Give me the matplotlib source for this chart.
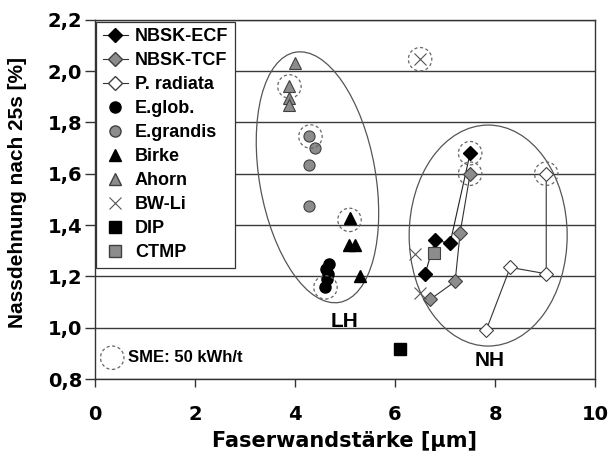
import numpy as np
import matplotlib
matplotlib.use("Agg")
import matplotlib.pyplot as plt
from matplotlib.patches import Ellipse, Circle
from matplotlib.transforms import ScaledTranslation
from matplotlib.lines import Line2D
from matplotlib.ticker import FuncFormatter

plt.rcParams['font.family'] = ['Liberation Sans', 'DejaVu Sans']
plt.rcParams['font.weight'] = 'bold'

# Nadelholz-Serien (verbunden)
ecf_x = [6.60, 6.80, 7.10, 7.50]
ecf_y = [1.21, 1.34, 1.33, 1.68]
tcf_x = [6.70, 7.20, 7.30, 7.50]
tcf_y = [1.11, 1.18, 1.37, 1.60]
rad_x = [7.82, 8.30, 9.02, 9.02]
rad_y = [0.99, 1.235, 1.21, 1.60]

# Laubholz und sonstige
eglob_x = [4.69, 4.62, 4.66, 4.64, 4.60]
eglob_y = [1.25, 1.23, 1.21, 1.19, 1.16]
egrand_x = [4.28, 4.40, 4.28, 4.28]
egrand_y = [1.745, 1.70, 1.634, 1.475]
birke_x = [5.09, 5.07, 5.20, 5.30]
birke_y = [1.426, 1.322, 1.322, 1.20]
ahorn_x = [4.01, 3.89, 3.89, 3.89]
ahorn_y = [2.03, 1.94, 1.894, 1.868]
bwli_x = [6.50, 6.40, 6.50]
bwli_y = [2.046, 1.287, 1.136]
dip_x = [6.10]
dip_y = [0.915]
ctmp_x = [6.78]
ctmp_y = [1.292]

# Punkte mit SME 50 kWh/t
sme_x = [7.50, 7.50, 9.02, 6.50, 3.89, 4.31, 5.09, 4.61]
sme_y = [1.68, 1.60, 1.60, 2.046, 1.94, 1.745, 1.42, 1.157]

GRAY = '#8c8c8c'
EDGE = '#404040'
WIDE = ['DejaVu Sans']

fig = plt.figure(figsize=(6.09, 4.63), dpi=100)
ax = fig.add_axes([0.1555, 0.1814, 0.822, 0.776])

ax.set_xlim(0, 10)
ax.set_ylim(0.8, 2.2)
ax.set_xticks(np.arange(0, 11, 2))
ax.set_yticks(np.arange(0.8, 2.21, 0.2))
ax.yaxis.set_major_formatter(FuncFormatter(lambda v, p: f"{v:.1f}".replace('.', ',')))
ax.grid(axis='y', color='#3a3a3a', linewidth=1.0)
ax.set_axisbelow(True)
ax.tick_params(direction='out', width=1, color='#333333')
ax.tick_params(axis='x', length=6, pad=13)
ax.tick_params(axis='y', length=7, pad=2)
for lbl in ax.get_xticklabels() + ax.get_yticklabels():
    lbl.set_family(WIDE)
    lbl.set_fontsize(14)
    lbl.set_fontweight('bold')
for s in ax.spines.values():
    s.set_color('#333333')
    s.set_linewidth(1.0)

ax.plot(ecf_x, ecf_y, color='#222222', lw=0.8, marker='D', ms=7, mfc='black', mec='black', zorder=4)
ax.plot(tcf_x, tcf_y, color='#333333', lw=0.8, marker='D', ms=7, mfc=GRAY, mec=EDGE, mew=0.8, zorder=4)
ax.plot(rad_x, rad_y, color='#333333', lw=0.8, marker='D', ms=7, mfc='white', mec=EDGE, mew=0.8, zorder=4)
ax.plot(eglob_x, eglob_y, ls='none', marker='o', ms=8, mfc='black', mec='black', zorder=4)
ax.plot(egrand_x, egrand_y, ls='none', marker='o', ms=8, mfc=GRAY, mec=EDGE, mew=0.8, zorder=4)
ax.plot(birke_x, birke_y, ls='none', marker='^', ms=9, mfc='black', mec='black', zorder=4)
ax.plot(ahorn_x, ahorn_y, ls='none', marker='^', ms=9, mfc=GRAY, mec=EDGE, mew=0.8, zorder=4)
ax.plot(bwli_x, bwli_y, ls='none', marker='x', ms=9, mec='#555555', mew=0.8, zorder=4)
ax.plot(dip_x, dip_y, ls='none', marker='s', ms=8, mfc='black', mec='black', zorder=4)
ax.plot(ctmp_x, ctmp_y, ls='none', marker='s', ms=8, mfc=GRAY, mec=EDGE, mew=0.8, zorder=4)


def shape_at(patch, x, y):
    # patch in inches, anchored at data point
    patch.set_transform(fig.dpi_scale_trans + ScaledTranslation(x, y, ax.transData))
    ax.add_patch(patch)


# Gruppen-Ellipsen
shape_at(Ellipse((0, 0), 2.54, 1.16, angle=100, fill=False, ec='#555555', lw=0.9, zorder=3), 4.45, 1.586)
shape_at(Ellipse((0, 0), 1.58, 2.21, angle=0, fill=False, ec='#555555', lw=0.9, zorder=3), 7.86, 1.359)

for sx, sy in zip(sme_x, sme_y):
    shape_at(Circle((0, 0), 0.117, fill=False, ec='#666666', lw=0.9, ls=(0, (2.5, 2)), zorder=5), sx, sy)

shape_at(Circle((0, 0), 0.117, fill=False, ec='#666666', lw=0.9, ls=(0, (2.5, 2)), zorder=5), 0.35, 0.883)
ax.text(0.66, 0.883, 'SME: 50 kWh/t', fontsize=12, fontweight='bold', va='center', ha='left')

ax.text(5.0, 1.023, 'LH', fontsize=15, fontweight='bold', ha='center', va='center')
ax.text(7.89, 0.874, 'NH', fontsize=15, fontweight='bold', ha='center', va='center')

handles = [
    Line2D([], [], color='#222222', lw=0.8, marker='D', ms=7, mfc='black', mec='black'),
    Line2D([], [], color='#333333', lw=0.8, marker='D', ms=7, mfc=GRAY, mec=EDGE),
    Line2D([], [], color='#333333', lw=0.8, marker='D', ms=7, mfc='white', mec=EDGE),
    Line2D([], [], ls='none', marker='o', ms=8, mfc='black', mec='black'),
    Line2D([], [], ls='none', marker='o', ms=8, mfc=GRAY, mec=EDGE),
    Line2D([], [], ls='none', marker='^', ms=9, mfc='black', mec='black'),
    Line2D([], [], ls='none', marker='^', ms=9, mfc=GRAY, mec=EDGE),
    Line2D([], [], ls='none', marker='x', ms=9, mec='#555555', mew=0.8),
    Line2D([], [], ls='none', marker='s', ms=8, mfc='black', mec='black'),
    Line2D([], [], ls='none', marker='s', ms=8, mfc=GRAY, mec=EDGE),
]
labels = ['NBSK-ECF', 'NBSK-TCF', 'P. radiata', 'E.glob.', 'E.grandis',
          'Birke', 'Ahorn', 'BW-Li', 'DIP', 'CTMP']
leg = ax.legend(handles, labels, loc='upper left', bbox_to_anchor=(0.003, 0.995),
                fontsize=13, frameon=True, fancybox=False, edgecolor='#333333',
                framealpha=1, handlelength=1.4, handletextpad=0.4, labelspacing=0.39,
                borderpad=0.35, borderaxespad=0)
leg.get_frame().set_linewidth(0.9)
for t in leg.get_texts():
    t.set_fontweight('bold')
leg.set_zorder(6)

ax.set_xlabel('Faserwandstärke [µm]', family=WIDE, fontsize=15, fontweight='bold', labelpad=5)
ax.set_ylabel('Nassdehnung nach 25s [%]', fontsize=15, fontweight='bold', labelpad=12)
ax.yaxis.set_label_coords(-0.135, 0.52)

fig.savefig('out.png', dpi=100)
